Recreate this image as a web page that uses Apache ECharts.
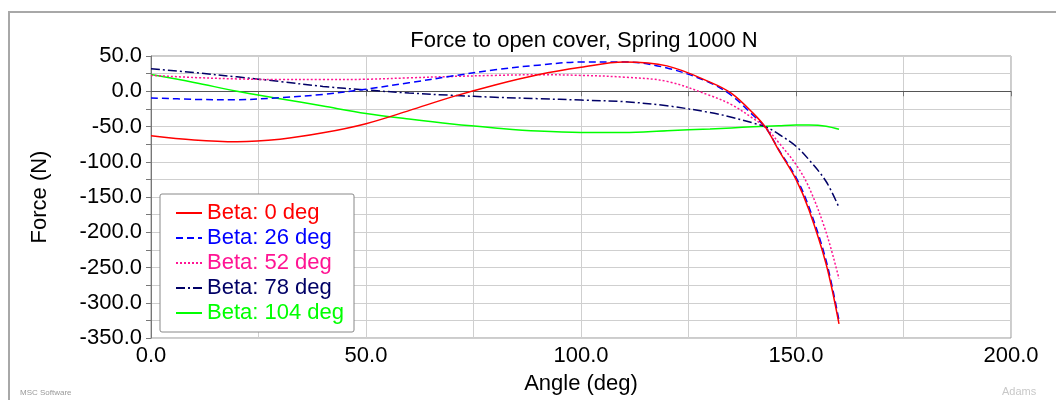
<!DOCTYPE html>
<html>
<head>
<meta charset="utf-8">
<title>Force to open cover</title>
<script src="https://cdn.jsdelivr.net/npm/echarts@6/dist/echarts.min.js"></script>
<style>
  html, body { margin: 0; padding: 0; background: #fff; }
  #main { width: 1056px; height: 400px; }
</style>
</head>
<body>
<div id="main"></div>
<script>
// Angle samples (deg), shared by every curve
var angles = [0, 10, 20, 30, 40, 50, 60, 70, 80, 90, 100, 110, 120, 130, 135, 140, 143, 146, 150, 153, 157, 160];

// Force (N) for each Beta value
var beta0   = [-63, -69, -71.5, -68, -59, -46, -27.5, -8, 9, 23.5, 34, 41.5, 36, 13, -3, -31, -52, -84, -125, -168, -245, -330];
var beta26  = [-9.4, -11.5, -12, -9, -4.5, 3, 12, 21.5, 30.5, 37, 41.5, 41.5, 33, 12, -6, -34, -52, -83, -122, -164, -240, -325];
var beta52  = [22.6, 19.5, 17.5, 16.5, 16.5, 17, 19, 21, 22.5, 23.5, 22.5, 20, 14, -6, -19, -38.5, -52, -73, -104, -136, -200, -266];
var beta78  = [32, 26.5, 20.4, 13.8, 6.9, 1.8, -2.5, -5.8, -8.5, -10.5, -12.5, -14.8, -20.6, -30.2, -36.8, -45, -50.5, -61, -78, -97, -128, -165];
var beta104 = [23.6, 12.5, 0, -10.5, -21, -31.5, -39.5, -46.5, -52, -56.5, -58.5, -58.5, -56, -53.5, -52, -50.5, -49.8, -49, -48, -48, -49.5, -54];

var seriesNames = ["Beta: 0 deg", "Beta: 26 deg", "Beta: 52 deg", "Beta: 78 deg", "Beta: 104 deg"];
var seriesColors = ["#ff0000", "#0000ff", "#ff1493", "#000066", "#00ff00"];
var seriesDash = ["solid", [7, 4], [2, 2], [9, 3, 2, 3], "solid"];
var seriesValues = [beta0, beta26, beta52, beta78, beta104];

document.addEventListener("DOMContentLoaded", function () {
  var chartDom = document.getElementById("main");
  var myChart = echarts.init(chartDom);
  var font = "Liberation Sans, Arial, sans-serif";

  // pair angles with forces for value/value axes
  function toPairs(values) {
    return angles.map(function (a, i) { return [a, values[i]]; });
  }

  var series = seriesNames.map(function (name, i) {
    var s = {
      name: name,
      type: "line",
      data: toPairs(seriesValues[i]),
      smooth: 0.35,
      symbol: "none",
      lineStyle: { color: seriesColors[i], width: 1.5, type: seriesDash[i] },
      itemStyle: { color: seriesColors[i] },
      z: 10 - i
    };
    if (i === 0) {
      // dark zero line across the plot
      s.markLine = {
        silent: true,
        symbol: "none",
        label: { show: false },
        lineStyle: { color: "#555", width: 1, type: "solid" },
        data: [{ yAxis: 0 }]
      };
    }
    return s;
  });

  var option = {
    animation: false,
    backgroundColor: "#fff",
    textStyle: { fontFamily: font },
    title: {
      text: "Force to open cover, Spring 1000 N",
      left: 579,
      textAlign: "center",
      top: 25,
      textStyle: { fontSize: 22, fontWeight: "normal", color: "#000", fontFamily: font }
    },
    legend: {
      orient: "vertical",
      left: 160,
      top: 194,
      padding: [8, 10, 8, 15],
      itemWidth: 26,
      itemHeight: 14,
      itemGap: 3,
      borderColor: "#888",
      borderWidth: 1,
      borderRadius: 2,
      backgroundColor: "#fff",
      itemStyle: { opacity: 0 },
      data: seriesNames.map(function (n, i) {
        return { name: n, textStyle: { color: seriesColors[i] } };
      }),
      textStyle: { fontSize: 22, fontFamily: font, padding: [0, 0, 0, 0] }
    },
    grid: {
      left: 151,
      right: 45,
      top: 56,
      bottom: 61,
      show: true,
      borderColor: "#999",
      borderWidth: 1
    },
    xAxis: {
      type: "value",
      min: 0,
      max: 200,
      interval: 50,
      name: "Angle (deg)",
      nameLocation: "middle",
      nameGap: 35,
      nameTextStyle: { fontSize: 22, color: "#000", fontFamily: font },
      axisLine: { lineStyle: { color: "#777" } },
      axisTick: { length: 5, lineStyle: { color: "#777" } },
      minorTick: { show: true, splitNumber: 2, length: 5, lineStyle: { color: "#777" } },
      axisLabel: {
        fontSize: 22,
        color: "#000",
        margin: 7,
        formatter: function (v) { return v.toFixed(1); }
      },
      splitLine: { lineStyle: { color: "#cfcfcf" } },
      minorSplitLine: { show: true, lineStyle: { color: "#cfcfcf" } }
    },
    yAxis: {
      type: "value",
      min: -350,
      max: 50,
      interval: 50,
      name: "Force (N)",
      nameLocation: "middle",
      nameGap: 100,
      nameTextStyle: { fontSize: 22, color: "#000", fontFamily: font },
      axisLine: { show: true, lineStyle: { color: "#777" } },
      axisTick: { show: true, length: 5, lineStyle: { color: "#777" } },
      minorTick: { show: true, splitNumber: 2, length: 5, lineStyle: { color: "#777" } },
      axisLabel: {
        fontSize: 22,
        color: "#000",
        margin: 9,
        formatter: function (v) { return v.toFixed(1); }
      },
      splitLine: { lineStyle: { color: "#cfcfcf" } },
      minorSplitLine: { show: true, lineStyle: { color: "#cfcfcf" } }
    },
    graphic: [
      // outer frame of the plot window
      {
        type: "rect",
        silent: true,
        shape: { x: 9, y: 12, width: 1200, height: 600 },
        style: { fill: null, stroke: "#a8a8a8", lineWidth: 2 }
      },
      {
        type: "text",
        left: 20,
        top: 389,
        silent: true,
        style: { text: "MSC Software", fill: "#999", font: "8px " + font }
      },
      {
        type: "text",
        left: 1002,
        top: 386,
        silent: true,
        style: { text: "Adams", fill: "#c8c8c8", font: "11px " + font }
      }
    ],
    series: series
  };

  myChart.setOption(option);
});
</script>
</body>
</html>
